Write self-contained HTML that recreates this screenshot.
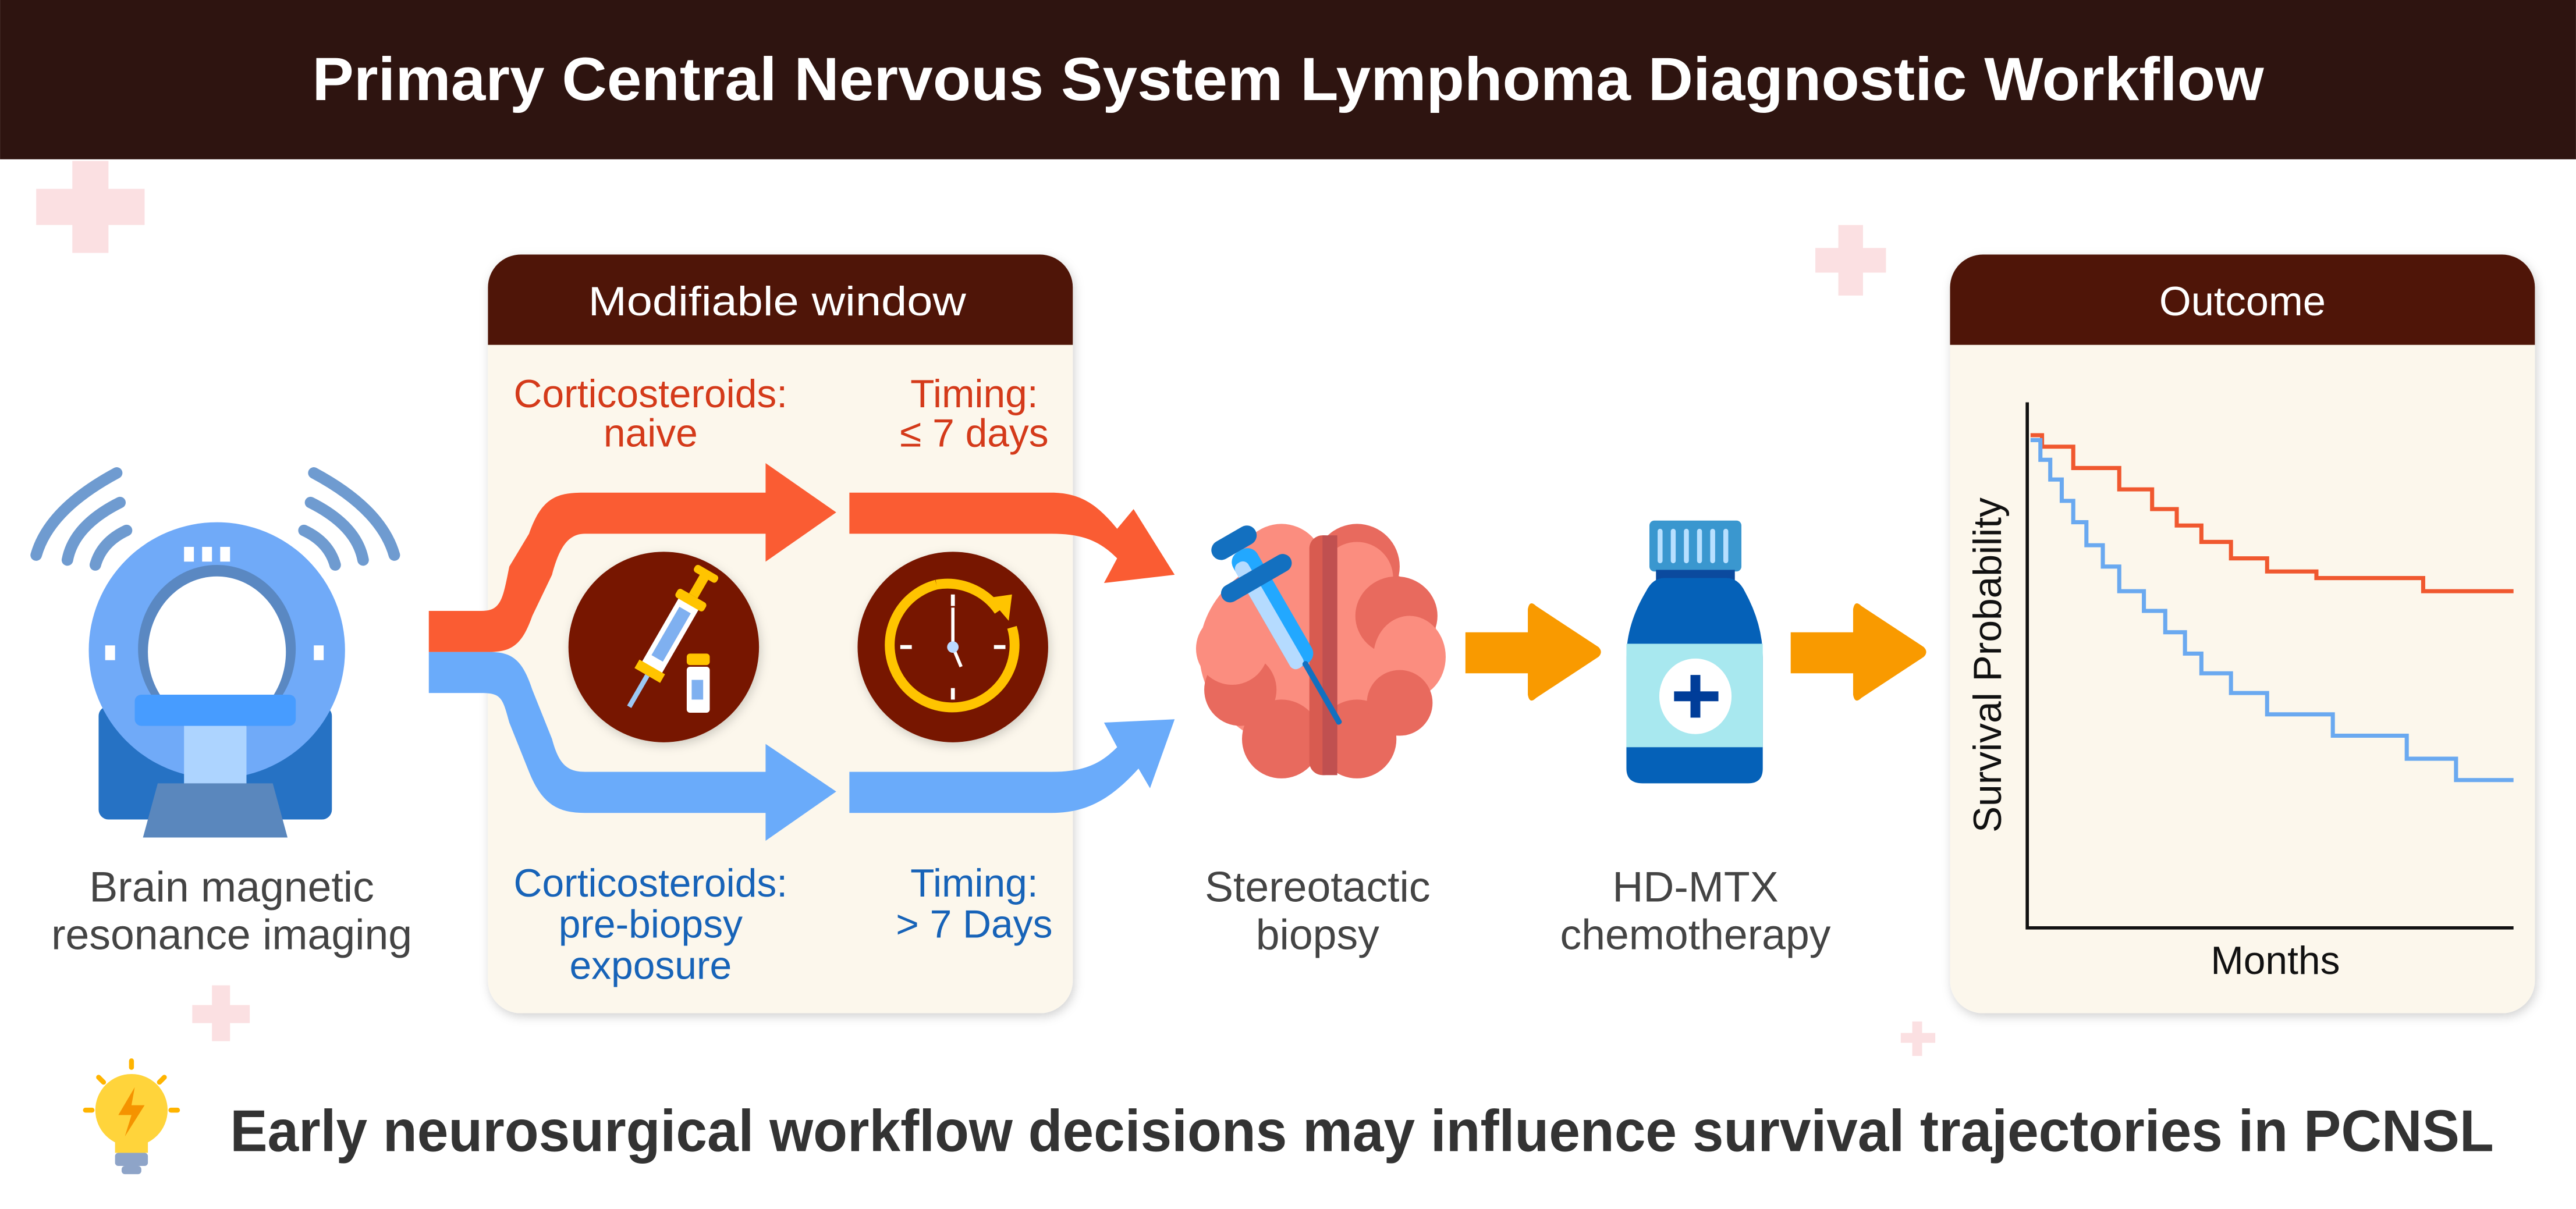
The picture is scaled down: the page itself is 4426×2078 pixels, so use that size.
<!DOCTYPE html>
<html><head><meta charset="utf-8"><style>
html,body{margin:0;padding:0;background:#fff;}
svg{display:block;}
text{font-family:"Liberation Sans","DejaVu Sans",sans-serif;}
</style></head><body>
<svg width="4426" height="2078" viewBox="0 0 1568 736.2" xmlns="http://www.w3.org/2000/svg">
<defs>
<filter id="sh" x="-10%" y="-10%" width="120%" height="120%"><feDropShadow dx="1" dy="2" stdDeviation="3" flood-color="#000" flood-opacity="0.18"/></filter>
</defs>
<rect width="1568" height="737" fill="#fff"/>
<!-- header -->
<rect x="0" y="0" width="1568" height="97" fill="#2e1410"/>
<text x="190" y="61" font-size="37" font-weight="bold" fill="#fff" textLength="1188" lengthAdjust="spacingAndGlyphs">Primary Central Nervous System Lymphoma Diagnostic Workflow</text>

<!-- decorative crosses -->
<g fill="#fbe0e2">
<rect x="44" y="98" width="22" height="56"/><rect x="22" y="115" width="66" height="22"/>
<rect x="1119" y="137" width="15" height="43"/><rect x="1105" y="151" width="43" height="15"/>
<rect x="129" y="600" width="11" height="34"/><rect x="117" y="612" width="35" height="11"/>
<rect x="1164" y="622" width="6" height="21"/><rect x="1157" y="629" width="21" height="6"/>
</g>

<!-- Modifiable window box -->
<g filter="url(#sh)">
<rect x="297" y="155" width="356" height="462" rx="20" fill="#fcf7ec"/>
</g>
<path d="M297,210 V175 a20,20 0 0 1 20,-20 H633 a20,20 0 0 1 20,20 V210 Z" fill="#4f1508"/>
<text x="358" y="192" font-size="25" fill="#fff" textLength="230" lengthAdjust="spacingAndGlyphs">Modifiable window</text>
<g font-size="24" fill="#d43a1a" text-anchor="middle">
<text x="396" y="248">Corticosteroids:</text>
<text x="396" y="272">naive</text>
<text x="593" y="248">Timing:</text>
<text x="593" y="272">≤ 7 days</text>
</g>
<g font-size="24" fill="#1763b8" text-anchor="middle">
<text x="396" y="546">Corticosteroids:</text>
<text x="396" y="571">pre-biopsy</text>
<text x="396" y="596">exposure</text>
<text x="593" y="546">Timing:</text>
<text x="593" y="571">&gt; 7 Days</text>
</g>

<!-- Outcome box -->
<g filter="url(#sh)">
<rect x="1187" y="155" width="356" height="462" rx="20" fill="#fcf7ec"/>
</g>
<path d="M1187,210 V175 a20,20 0 0 1 20,-20 H1523 a20,20 0 0 1 20,20 V210 Z" fill="#4f1508"/>
<text x="1365" y="192" text-anchor="middle" font-size="25" fill="#fff">Outcome</text>
<!-- chart -->
<path d="M1234,245 V565 H1530" fill="none" stroke="#111" stroke-width="2"/>
<text x="1218" y="405" text-anchor="middle" font-size="24" fill="#111" transform="rotate(-90 1218 405)">Survival Probability</text>
<text x="1385" y="593" text-anchor="middle" font-size="24" fill="#111">Months</text>
<polyline fill="none" stroke="#f0582f" stroke-width="2.5" points="1236,265 1243,265 1243,272 1262,272 1262,285 1290,285 1290,298 1310,298 1310,310 1325,310 1325,320 1340,320 1340,330 1358,330 1358,340 1380,340 1380,348 1410,348 1410,352 1475,352 1475,360 1530,360"/>
<polyline fill="none" stroke="#6aa9f0" stroke-width="2.5" points="1236,268 1242,268 1242,280 1248,280 1248,292 1255,292 1255,305 1262,305 1262,318 1270,318 1270,332 1280,332 1280,345 1290,345 1290,360 1305,360 1305,372 1318,372 1318,385 1330,385 1330,398 1340,398 1340,410 1358,410 1358,422 1380,422 1380,435 1420,435 1420,448 1465,448 1465,462 1495,462 1495,475 1530,475"/>

<!-- flow bands -->
<path d="M261,372 H293 C305,372 306,365 310,345 L322,325 C330,302 340,300 356,300 H466 V282 L509,312 L466,342 V325 H356 C345,325 340,335 336,350 L324,375 C318,392 312,397 298,397 H261 Z" fill="#fa5c33"/>
<path d="M261,397 H298 C312,397 318,402 324,420 L336,450 C340,465 345,470 356,470 H466 V453 L509,482 L466,512 V495 H356 C340,495 330,490 322,470 L310,440 C306,425 305,422 293,422 H261 Z" fill="#6aabfa"/>
<path d="M517,300 H640 C660,300 670,310 680,322 L690,310 L715,350 L672,355 L680,340 C670,330 660,325 640,325 H517 Z" fill="#fa5c33"/>
<path d="M517,470 H640 C660,470 670,465 680,455 L672,440 L715,438 L700,480 L693,468 C675,488 660,495 640,495 H517 Z" fill="#6aabfa"/>

<!-- circles -->
<circle cx="404" cy="394" r="58" fill="#771700" filter="url(#sh)"/>
<g transform="translate(404 394)">
<g transform="rotate(30)">
<rect x="-7" y="-32" width="14" height="48" rx="2" fill="#fff"/>
<rect x="-4" y="-26" width="8" height="34" fill="#7fb0f0"/>
<rect x="-10" y="-36" width="20" height="6" rx="2" fill="#ffc400"/>
<rect x="-3" y="-50" width="6" height="14" fill="#ffc400"/>
<rect x="-8" y="-54" width="16" height="5" rx="2" fill="#ffc400"/>
<rect x="-9" y="14" width="18" height="6" fill="#ffc400"/>
<rect x="-1.5" y="20" width="3" height="22" fill="#9cc8f5"/>
</g>
<rect x="14" y="12" width="14" height="28" rx="2" fill="#fff"/>
<rect x="14" y="4" width="14" height="7" rx="2" fill="#ffc400"/>
<rect x="17" y="20" width="7" height="12" fill="#7fb0f0"/>
</g>
<circle cx="580" cy="394" r="58" fill="#771700" filter="url(#sh)"/>
<g transform="translate(580 394)">
<path d="M-10,-38 A38,38 0 1 0 36,-12" fill="none" stroke="#ffc400" stroke-width="6"/>
<path d="M-10,-38 A38,38 0 0 1 28,-22" fill="none" stroke="#ffc400" stroke-width="6"/>
<polygon points="22,-30 36,-32 34,-16" fill="#ffc400"/>
<g fill="#fff">
<rect x="-1.2" y="-32" width="2.4" height="7"/><rect x="-1.2" y="25" width="2.4" height="7"/>
<rect x="-32" y="-1.2" width="7" height="2.4"/><rect x="25" y="-1.2" width="7" height="2.4"/>
</g>
<line x1="0" y1="0" x2="0" y2="-24" stroke="#fff" stroke-width="2"/>
<line x1="0" y1="0" x2="5" y2="12" stroke="#fff" stroke-width="2"/>
<circle r="3.5" fill="#bcd9ff"/>
</g>

<!-- MRI -->
<g>
<g fill="none" stroke="#6f9bd0" stroke-width="7" stroke-linecap="round">
<path d="M71,288 Q30,310 22,338"/><path d="M73,306 Q45,320 41,341"/><path d="M77,323 Q62,330 58,344"/>
<path d="M191,288 Q232,310 240,338"/><path d="M189,306 Q217,320 221,341"/><path d="M185,323 Q200,330 204,344"/>
</g>
<rect x="60" y="430" width="142" height="69" rx="6" fill="#2672c4"/>
<circle cx="132" cy="396" r="78" fill="#70aaf8"/>
<ellipse cx="132" cy="395" rx="48" ry="51" fill="#5a88c2"/>
<ellipse cx="132" cy="397" rx="42" ry="46" fill="#fff"/>
<rect x="112" y="440" width="38" height="38" fill="#add4ff"/>
<rect x="82" y="423" width="98" height="19" rx="4" fill="#479cff"/>
<polygon points="96,477 166,477 175,510 87,510" fill="#5a87bd"/>
<g fill="#fff"><rect x="112" y="333" width="6" height="9"/><rect x="123" y="333" width="6" height="9"/><rect x="134" y="333" width="6" height="9"/>
<rect x="64" y="393" width="6" height="9"/><rect x="191" y="393" width="6" height="9"/></g>
</g>
<g font-size="26" fill="#444" text-anchor="middle">
<text x="141" y="549">Brain magnetic</text>
<text x="141" y="578">resonance imaging</text>
<text x="802" y="549">Stereotactic</text>
<text x="802" y="578">biopsy</text>
<text x="1032" y="549">HD-MTX</text>
<text x="1032" y="578">chemotherapy</text>
</g>

<!-- brain -->
<g>
<ellipse cx="803" cy="397" rx="73" ry="62" fill="#fb8d7f"/>
<ellipse cx="780" cy="345" rx="26" ry="26" fill="#fb8d7f"/>
<ellipse cx="826" cy="345" rx="26" ry="26" fill="#e86a5e"/>
<ellipse cx="826" cy="352" rx="22" ry="22" fill="#fb8d7f"/>
<ellipse cx="780" cy="450" rx="24" ry="24" fill="#e86a5e"/>
<ellipse cx="826" cy="450" rx="24" ry="24" fill="#e86a5e"/>
<ellipse cx="850" cy="375" rx="25" ry="24" fill="#e86a5e"/>
<ellipse cx="755" cy="420" rx="22" ry="22" fill="#e86a5e"/>
<ellipse cx="858" cy="400" rx="22" ry="25" fill="#fb8d7f"/>
<ellipse cx="750" cy="395" rx="22" ry="22" fill="#fb8d7f"/>
<ellipse cx="852" cy="428" rx="20" ry="20" fill="#e86a5e"/>
<rect x="797" y="326" width="17" height="146" rx="8" fill="#d85b50"/>
<rect x="805" y="326" width="9" height="146" fill="#c05050"/>
<g transform="translate(752 330) rotate(60)">
<rect x="6" y="-8" width="80" height="17" rx="7" fill="#22a8ff"/>
<rect x="12" y="0" width="74" height="9" rx="4" fill="#b5dbff"/>
<rect x="84" y="-1.5" width="44" height="3.5" rx="1.5" fill="#1370c0"/>
<rect x="20" y="-24" width="11" height="48" rx="5.5" fill="#1370c0"/>
<rect x="-6" y="-14" width="12" height="30" rx="6" fill="#1370c0"/>
</g>
</g>

<!-- orange arrows -->
<path d="M892,385 H930 V371 Q931,365 935,369 L973,394 Q976,397 973,400 L935,425 Q931,429 930,423 V410 H892 Z" fill="#f99a00"/>
<path d="M1090,385 H1128 V371 Q1129,365 1133,369 L1171,394 Q1174,397 1171,400 L1133,425 Q1129,429 1128,423 V410 H1090 Z" fill="#f99a00"/>

<!-- bottle -->
<g>
<rect x="1004" y="317" width="56" height="31" rx="3" fill="#3a97cf"/>
<g fill="#b8e0ff"><rect x="1009" y="322" width="3" height="21" rx="1.5"/><rect x="1017" y="322" width="3" height="21" rx="1.5"/><rect x="1025" y="322" width="3" height="21" rx="1.5"/><rect x="1033" y="322" width="3" height="21" rx="1.5"/><rect x="1041" y="322" width="3" height="21" rx="1.5"/><rect x="1049" y="322" width="3" height="21" rx="1.5"/></g>
<rect x="1008" y="347" width="48" height="8" fill="#0b4a9e"/>
<path d="M1013,352 H1051 Q1058,352 1062,360 Q1073,380 1073,400 V468 Q1073,477 1064,477 H1000 Q990,477 990,468 V400 Q990,380 1002,360 Q1006,352 1013,352 Z" fill="#0561b8"/>
<rect x="990" y="392" width="83" height="63" fill="#a8e8ef"/>
<ellipse cx="1032" cy="424" rx="22" ry="23" fill="#fff"/>
<rect x="1029" y="411" width="6" height="26" fill="#003d99"/>
<rect x="1019" y="421" width="27" height="6" fill="#003d99"/>
</g>

<!-- bulb -->
<g>
<circle cx="80" cy="676" r="22" fill="#ffd43b"/>
<rect x="70" y="690" width="20" height="12" fill="#ffd43b"/>
<rect x="70" y="702" width="20" height="8" rx="2" fill="#8ea4c8"/>
<rect x="74" y="710" width="12" height="5" rx="2" fill="#8ea4c8"/>
<polygon points="82,662 72,679 80,679 76,692 88,673 80,673" fill="#f59300"/>
<g stroke="#ffb400" stroke-width="3" stroke-linecap="round">
<line x1="80" y1="646" x2="80" y2="650"/><line x1="52" y1="676" x2="56" y2="676"/><line x1="104" y1="676" x2="108" y2="676"/>
<line x1="60" y1="656" x2="63" y2="659"/><line x1="100" y1="656" x2="97" y2="659"/>
</g>
</g>
<text x="140" y="701" font-size="36" font-weight="bold" fill="#333" textLength="1378" lengthAdjust="spacingAndGlyphs">Early neurosurgical workflow decisions may influence survival trajectories in PCNSL</text>
</svg>
</body></html>
